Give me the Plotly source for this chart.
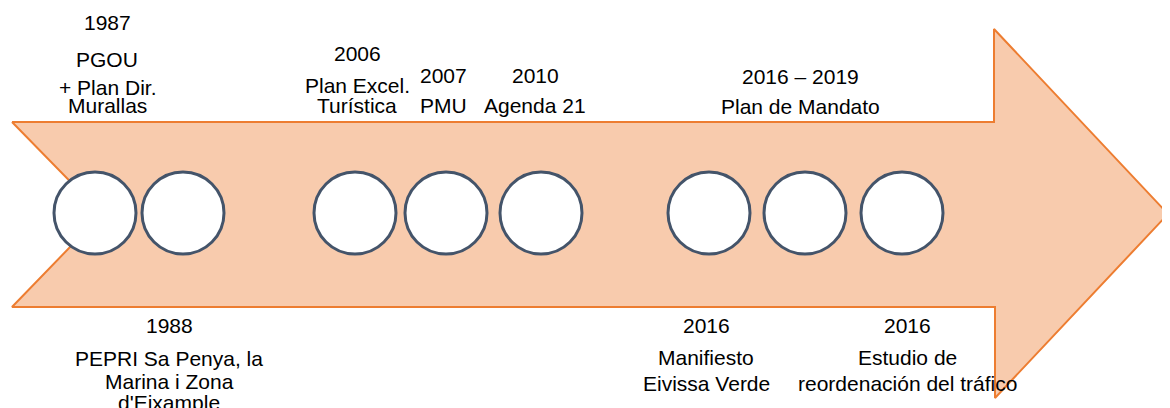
import plotly.graph_objects as go

# Timeline content
circle_x = [95, 183, 355, 446, 541, 709, 805, 902]

top_x = [107, 357, 443, 535, 800]
top_lines = [
    [("1987", 22), ("PGOU", 59), ("+ Plan Dir.", 87), ("Murallas", 105)],
    [("2006", 53), ("Plan Excel.", 85), ("Turística", 105)],
    [("2007", 75), ("PMU", 105)],
    [("2010", 75), ("Agenda 21", 105)],
    [("2016 – 2019", 76), ("Plan de Mandato", 106)],
]

bottom_x = [169, 706, 907]
bottom_lines = [
    [("1988", 325), ("PEPRI Sa Penya, la", 358), ("Marina i Zona", 381), ("d'Eixample", 402)],
    [("2016", 325), ("Manifiesto", 357), ("Eivissa Verde", 383)],
    [("2016", 325), ("Estudio de", 357), ("reordenación del tráfico", 383)],
]

# Arrow outline (pixel space)
arrow_x = [12, 994, 994, 1168, 995, 995, 12, 102, 12]
arrow_y = [122, 122, 29, 214, 398, 307, 307, 214, 122]

W, H = 1170, 408
OFF = 8  # page body margin in the browser
fig = go.Figure()

fig.add_trace(go.Scatter(x=arrow_x, y=arrow_y, mode='lines', fill='toself',
                         fillcolor='#F8CBAD', line=dict(color='#ED7D31', width=2),
                         hoverinfo='skip', showlegend=False))

fig.add_trace(go.Scatter(x=circle_x, y=[213] * len(circle_x), mode='markers',
                         marker=dict(size=82, color='white',
                                     line=dict(color='#44546A', width=3)),
                         hoverinfo='skip', showlegend=False))

font = dict(family='Liberation Sans, Arial', size=21, color='black')
for x, lines in list(zip(top_x, top_lines)) + list(zip(bottom_x, bottom_lines)):
    for txt, y in lines:
        fig.add_annotation(x=x, y=y, text=txt, showarrow=False, font=font,
                           xanchor='center', yanchor='middle')

fig.update_xaxes(range=[OFF, W + OFF], visible=False, fixedrange=True)
fig.update_yaxes(range=[H + OFF, OFF], visible=False, fixedrange=True)
fig.update_layout(width=W, height=H, margin=dict(l=0, r=0, t=0, b=0),
                  plot_bgcolor='white', paper_bgcolor='white')

fig.write_html("out.html")
